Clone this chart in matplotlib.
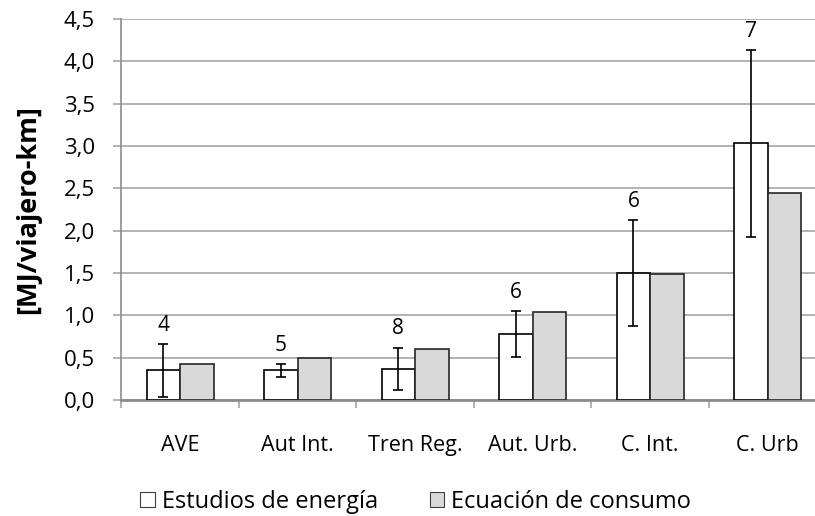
import numpy as np
import matplotlib.pyplot as plt
from matplotlib.patches import Patch

# data
categories = ['AVE', 'Aut Int.', 'Tren Reg.', 'Aut. Urb.', 'C. Int.', 'C. Urb']
estudios = [0.35, 0.35, 0.37, 0.78, 1.50, 3.03]
estudios_err = [0.31, 0.075, 0.25, 0.27, 0.625, 1.10]
ecuacion = [0.43, 0.50, 0.60, 1.04, 1.49, 2.44]
n_estudios = [4, 5, 8, 6, 6, 7]
yticks = [0.0, 0.5, 1.0, 1.5, 2.0, 2.5, 3.0, 3.5, 4.0, 4.5]

plt.rcParams['font.family'] = ['Open Sans', 'DejaVu Sans']

fig = plt.figure(figsize=(8.15, 5.16), dpi=100)
ax = fig.add_axes([0.149, 0.2248, 0.865, 0.7384])

x = np.arange(len(categories))
w = 0.285
grid_c = '#a6a6a6'

ax.bar(x - w / 2, estudios, w, color='white', edgecolor='black', linewidth=1.2, zorder=3)
ax.bar(x + w / 2, ecuacion, w, color='#d9d9d9', edgecolor='#262626', linewidth=1.2, zorder=3)
ax.errorbar(x - w / 2, estudios, yerr=estudios_err, fmt='none', ecolor='black',
            elinewidth=1.2, capsize=3.5, capthick=1.2, zorder=4)

for xi, v, e, n in zip(x, estudios, estudios_err, n_estudios):
    ax.annotate(str(n), (xi - w / 2, v + e), xytext=(0, 6), textcoords='offset points',
                ha='center', va='bottom', fontsize=15)

ax.set_xlim(-0.5, len(categories) - 0.5)
ax.set_ylim(0, 4.5)
ax.set_yticks(yticks)
ax.set_yticklabels([f'{t:.1f}'.replace('.', ',') for t in yticks], fontsize=16)
ax.yaxis.grid(True, color=grid_c, linewidth=1.2, zorder=0)

ax.set_xticks(x)
ax.set_xticklabels(categories, fontsize=15.5)
ax.set_xticks(np.arange(len(categories) + 1) - 0.5, minor=True)
ax.tick_params(axis='x', which='major', length=0, pad=25)
ax.tick_params(axis='x', which='minor', length=6, width=1.2, color=grid_c)
ax.tick_params(axis='y', length=6, width=1.2, color=grid_c, pad=13)

for s in ['top', 'right']:
    ax.spines[s].set_visible(False)
ax.spines['left'].set_color('#8c8c8c')
ax.spines['left'].set_linewidth(1.2)
ax.spines['bottom'].set_color('#8c8c8c')
ax.spines['bottom'].set_linewidth(2)

ax.set_ylabel('[MJ/viajero-km]', fontsize=19.5, fontweight='bold')
ax.yaxis.set_label_coords(-0.114, 0.5)

handles = [Patch(facecolor='white', edgecolor='#404040', linewidth=0.8),
           Patch(facecolor='#d9d9d9', edgecolor='#404040', linewidth=0.8)]
fig.legend(handles, ['Estudios de energía', 'Ecuación de consumo'], loc='center',
           bbox_to_anchor=(0.51, 0.027), ncol=2, frameon=False, fontsize=17,
           handlelength=0.62, handleheight=0.62, handletextpad=0.3, columnspacing=2.2,
           borderpad=0)

fig.savefig('out.png', dpi=100)
